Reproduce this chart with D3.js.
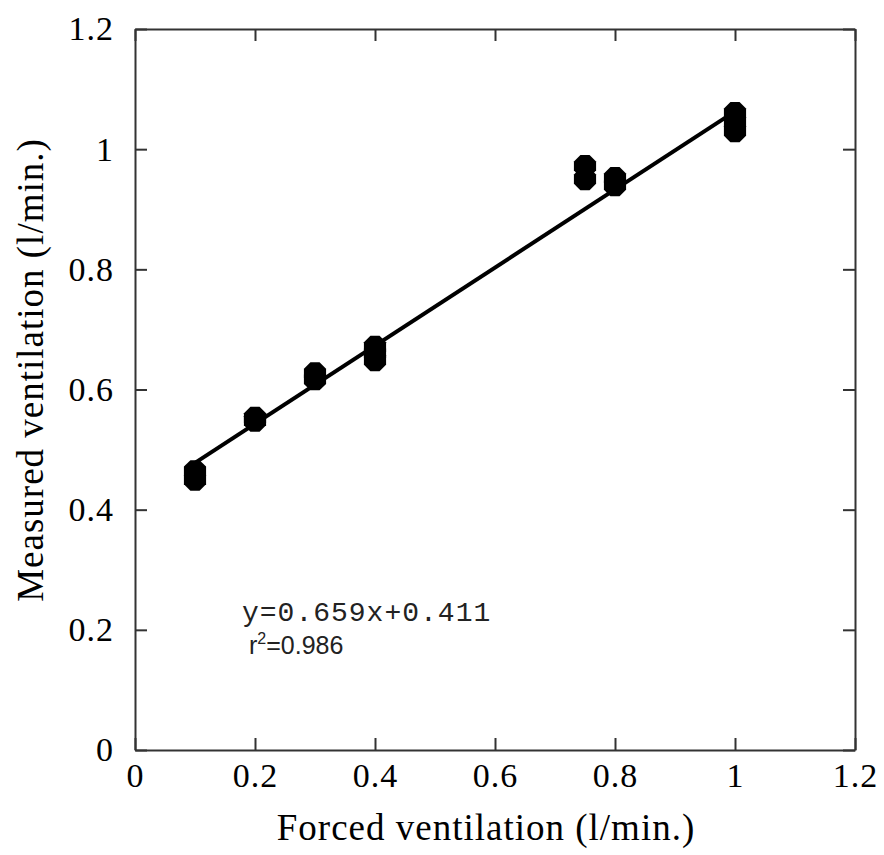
<!DOCTYPE html>
<html>
<head>
<meta charset="utf-8">
<script src="https://cdn.jsdelivr.net/npm/d3@7"></script>
<style>
  html, body { margin: 0; padding: 0; background: #fff; }
  svg { display: block; }
</style>
</head>
<body>
<svg id="chart" width="884" height="855"></svg>
<script>
// forced ventilation (x) vs measured ventilation (y), several runs per setting
const forced = [0.1, 0.1, 0.2, 0.2, 0.3, 0.3, 0.4, 0.4, 0.4, 0.75, 0.75, 0.8, 0.8, 1.0, 1.0, 1.0];
const measured = [0.45, 0.464, 0.548, 0.553, 0.617, 0.627, 0.649, 0.66, 0.671, 0.95, 0.972, 0.94, 0.952, 1.03, 1.045, 1.06];

// fitted line endpoints as drawn
const fitX = [0.1, 1.0];
const fitY = [0.478, 1.063];

const xTicks = [0, 0.2, 0.4, 0.6, 0.8, 1, 1.2];
const yTicks = [0, 0.2, 0.4, 0.6, 0.8, 1, 1.2];
const tickLabels = ["0", "0.2", "0.4", "0.6", "0.8", "1", "1.2"];

const xTitle = "Forced ventilation (l/min.)";
const yTitle = "Measured ventilation (l/min.)";
const eqText = "y=0.659x+0.411";
const r2Value = "=0.986";

const svg = d3.select("#chart");
const margin = { top: 29, right: 29, bottom: 105, left: 135 };
const W = 884, H = 855;

const x = d3.scaleLinear().domain([0, 1.2]).range([margin.left, W - margin.right]);
const y = d3.scaleLinear().domain([0, 1.2]).range([H - margin.bottom, margin.top]);

const serif = "'Liberation Serif', 'Times New Roman', Times, serif";
const axisColor = "#333";

function styleAxis(g) {
  g.select(".domain").attr("stroke", axisColor).attr("stroke-width", 2);
  g.selectAll(".tick line").attr("stroke", axisColor).attr("stroke-width", 2);
  g.selectAll(".tick text")
    .attr("fill", "#000")
    .style("font-family", serif)
    .style("font-size", "34px")
    .style("letter-spacing", "1px");
}

// bottom
svg.append("g")
  .attr("transform", `translate(0,${y(0)})`)
  .call(d3.axisBottom(x).tickValues(xTicks).tickSize(-12).tickSizeOuter(0).tickPadding(13)
    .tickFormat((d, i) => tickLabels[i]))
  .call(styleAxis);

// left
svg.append("g")
  .attr("transform", `translate(${x(0)},0)`)
  .call(d3.axisLeft(y).tickValues(yTicks).tickSize(-12).tickSizeOuter(0).tickPadding(21)
    .tickFormat((d, i) => tickLabels[i]))
  .call(styleAxis);

// top
svg.append("g")
  .attr("transform", `translate(0,${y(1.2)})`)
  .call(d3.axisTop(x).tickValues(xTicks).tickSize(-12).tickSizeOuter(0).tickFormat(""))
  .call(styleAxis);

// right
svg.append("g")
  .attr("transform", `translate(${x(1.2)},0)`)
  .call(d3.axisRight(y).tickValues(yTicks).tickSize(-12).tickSizeOuter(0).tickFormat(""))
  .call(styleAxis);

// fit line
svg.append("line")
  .attr("x1", x(fitX[0])).attr("y1", y(fitY[0]))
  .attr("x2", x(fitX[1])).attr("y2", y(fitY[1]))
  .attr("stroke", "#000")
  .attr("stroke-width", 4);

// octagon marker like the original plot
const octagon = {
  draw(ctx, size) {
    const r = Math.sqrt(size / Math.PI);
    for (let k = 0; k < 8; k++) {
      const a = Math.PI / 8 + k * Math.PI / 4;
      const px = r * Math.cos(a), py = r * Math.sin(a);
      if (k === 0) ctx.moveTo(px, py); else ctx.lineTo(px, py);
    }
    ctx.closePath();
  }
};

svg.append("g")
  .selectAll("path")
  .data(forced.map((f, i) => [f, measured[i]]))
  .join("path")
  .attr("transform", d => `translate(${x(d[0])},${y(d[1])})`)
  .attr("d", d3.symbol(octagon, Math.PI * 12 * 12))
  .attr("fill", "#000");

// axis titles
svg.append("text")
  .attr("x", 486)
  .attr("y", 840)
  .attr("text-anchor", "middle")
  .style("font-family", serif)
  .style("font-size", "37px")
  .style("letter-spacing", "1px")
  .text(xTitle);

svg.append("text")
  .attr("transform", "translate(43,370) rotate(-90)")
  .attr("text-anchor", "middle")
  .style("font-family", serif)
  .style("font-size", "37px")
  .style("letter-spacing", "1px")
  .text(yTitle);

// regression annotation
svg.append("text")
  .attr("x", 242)
  .attr("y", 621)
  .style("font-family", "'Liberation Mono', 'Courier New', monospace")
  .style("font-size", "28px")
  .style("letter-spacing", "1px")
  .attr("fill", "#222")
  .text(eqText);

const r2 = svg.append("text")
  .attr("x", 249)
  .attr("y", 654)
  .style("font-family", "'Liberation Sans', Arial, sans-serif")
  .style("font-size", "25px")
  .attr("fill", "#222");
r2.append("tspan").text("r");
r2.append("tspan").attr("dy", -10).style("font-size", "16px").text("2");
r2.append("tspan").attr("dy", 10).text(r2Value);
</script>
</body>
</html>
